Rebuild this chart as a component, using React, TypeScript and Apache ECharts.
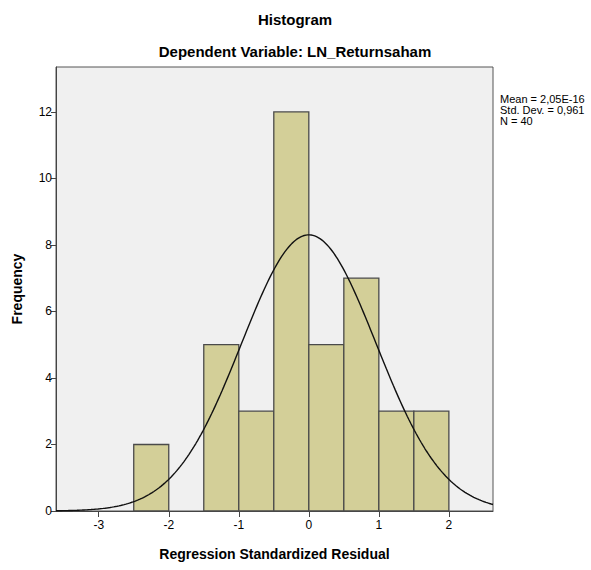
import React, { useEffect, useRef } from "react";
import * as echarts from "echarts";

const binStarts = [-2.5, -1.5, -1.0, -0.5, 0.0, 0.5, 1.0, 1.5];
const binWidth = 0.5;
const counts = [2, 5, 3, 12, 5, 7, 3, 3];
const xTicks = [-3, -2, -1, 0, 1, 2];
const statMean = 2.05e-16;
const statSd = 0.961;
const statN = 40;
const legendLines = ["Mean = 2,05E-16", "Std. Dev. = 0,961", "N = 40"];
const xMin = -3.61;
const xMax = 2.63;
const yMax = 13.35;

export default function App() {
  const ref = useRef<HTMLDivElement>(null);
  useEffect(() => {
    if (!ref.current) return;
    const chart = echarts.init(ref.current, undefined, { renderer: "svg" });
    const barData = binStarts.map((s, i) => [s, s + binWidth, counts[i]]);
    const curve: number[][] = [];
    const steps = 250;
    for (let i = 0; i <= steps; i++) {
      const x = xMin + ((xMax - xMin) * i) / steps;
      const z = (x - statMean) / statSd;
      const y = (statN * binWidth) / (statSd * Math.sqrt(2 * Math.PI)) * Math.exp(-0.5 * z * z);
      curve.push([x, y]);
    }
    const font = "'Liberation Sans', Arial, sans-serif";
    chart.setOption({
      animation: false,
      title: [
        { text: "Histogram", left: 290, top: 7, textAlign: "center", textStyle: { fontFamily: font, fontSize: 15, fontWeight: "bold", color: "#000" } },
        { text: "Dependent Variable: LN_Returnsaham", left: 290, top: 39, textAlign: "center", textStyle: { fontFamily: font, fontSize: 15, fontWeight: "bold", color: "#000" } },
      ],
      graphic: [
        {
          type: "text",
          left: 500,
          top: 93,
          style: { text: legendLines.join("\n"), fontFamily: font, fontSize: 11, lineHeight: 11, fill: "#000" },
        },
      ],
      grid: {
        left: 56,
        top: 67,
        width: 437,
        height: 444,
        containLabel: false,
        outerBoundsMode: "none",
        show: true,
        backgroundColor: "#F0F0F0",
        borderColor: "#555",
        borderWidth: 1,
      },
      xAxis: {
        type: "value",
        min: xMin,
        max: xMax,
        name: "Regression Standardized Residual",
        nameLocation: "middle",
        nameGap: 36,
        nameTextStyle: { fontFamily: font, fontSize: 14, fontWeight: "bold", color: "#000" },
        axisLine: { show: true, onZero: false, lineStyle: { color: "#444" } },
        axisTick: { show: true, length: 6, customValues: xTicks, lineStyle: { color: "#444" } },
        axisLabel: { customValues: xTicks, fontFamily: font, fontSize: 12, color: "#000", margin: 8 },
        splitLine: { show: false },
      },
      yAxis: {
        type: "value",
        min: 0,
        max: yMax,
        interval: 2,
        name: "Frequency",
        nameLocation: "middle",
        nameGap: 32,
        nameRotate: 90,
        nameTextStyle: { fontFamily: font, fontSize: 14, fontWeight: "bold", color: "#000" },
        axisLine: { show: true, onZero: false, lineStyle: { color: "#444" } },
        axisTick: { show: true, length: 5, lineStyle: { color: "#444" } },
        axisLabel: { fontFamily: font, fontSize: 12, color: "#000", margin: 4, showMaxLabel: false },
        splitLine: { show: false },
      },
      series: [
        {
          type: "custom",
          data: barData,
          z: 2,
          renderItem: (params: any, api: any) => {
            const p0 = api.coord([api.value(0), api.value(2)]);
            const p1 = api.coord([api.value(1), 0]);
            return {
              type: "rect",
              shape: { x: p0[0], y: p0[1], width: p1[0] - p0[0], height: p1[1] - p0[1] },
              style: { fill: "#D3CF98", stroke: "#4a4a4a", lineWidth: 1.3 },
            };
          },
        },
        {
          type: "line",
          data: curve,
          z: 3,
          showSymbol: false,
          symbol: "none",
          lineStyle: { color: "#111", width: 1.4 },
        },
      ],
    });
    return () => chart.dispose();
  }, []);
  return <div ref={ref} style={{ position: "absolute", left: 0, top: 0, width: 591, height: 570 }} />;
}
